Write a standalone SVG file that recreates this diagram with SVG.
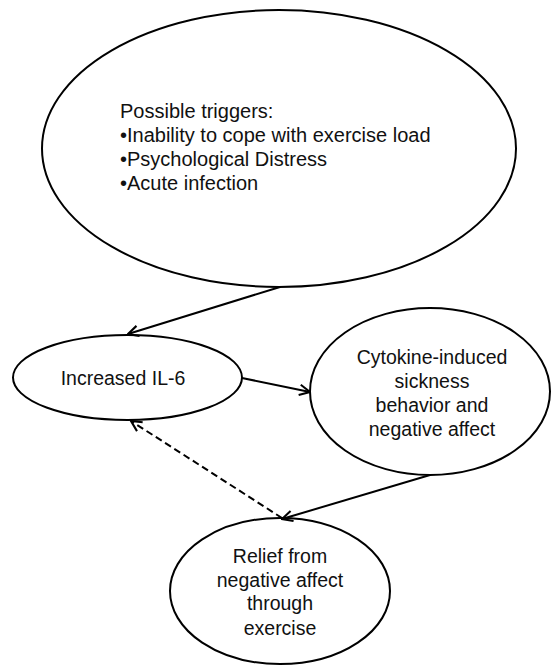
<svg xmlns="http://www.w3.org/2000/svg" width="554" height="666" viewBox="0 0 554 666">
<style>
.node{fill:#fff;stroke:#000;stroke-width:2}
.t{font-family:"Liberation Sans",Arial,sans-serif;font-size:19.5px;fill:#111}
.big{font-size:20px}
.c{text-anchor:middle}
.e{fill:none;stroke:#000;stroke-width:2}
.d{stroke-dasharray:7 4}
</style>
<defs>
<marker id="ah" markerUnits="userSpaceOnUse" markerWidth="14" markerHeight="14" refX="10" refY="5" orient="auto" viewBox="-1 -1 12 12">
<path d="M1,0.5 L10,5 L1,9.5" fill="none" stroke="#000" stroke-width="1.8"/>
</marker>
</defs>
<rect width="554" height="666" fill="#fff"/>
<g id="triggers">
<ellipse class="node" cx="279" cy="148.5" rx="237" ry="138.5"/>
<text class="t big" x="120" y="118">Possible triggers:</text>
<text class="t big" x="120" y="142">•Inability to cope with exercise load</text>
<text class="t big" x="120" y="166">•Psychological Distress</text>
<text class="t big" x="120" y="190">•Acute infection</text>
</g>
<g id="il6">
<ellipse class="node" cx="127.5" cy="377.5" rx="114.5" ry="42.5"/>
<text class="t c" x="123" y="384.5">Increased IL-6</text>
</g>
<g id="cytokine">
<ellipse class="node" cx="430" cy="391.5" rx="120" ry="83.5"/>
<text class="t c" x="432" y="364">Cytokine-induced</text>
<text class="t c" x="432" y="388">sickness</text>
<text class="t c" x="432" y="412">behavior and</text>
<text class="t c" x="432" y="436">negative affect</text>
</g>
<g id="relief">
<ellipse class="node" cx="280" cy="591" rx="110" ry="73"/>
<text class="t c" x="280" y="563">Relief from</text>
<text class="t c" x="280" y="587">negative affect</text>
<text class="t c" x="280" y="610">through</text>
<text class="t c" x="280" y="635">exercise</text>
</g>
<g id="connectors">
<line class="e" x1="280" y1="287" x2="128" y2="334" marker-end="url(#ah)"/>
<line class="e" x1="242" y1="378" x2="310" y2="392" marker-end="url(#ah)"/>
<line class="e" x1="430" y1="475" x2="282" y2="519" marker-end="url(#ah)"/>
<line class="e d" x1="282" y1="518" x2="131" y2="421" marker-end="url(#ah)"/>
</g>
</svg>
